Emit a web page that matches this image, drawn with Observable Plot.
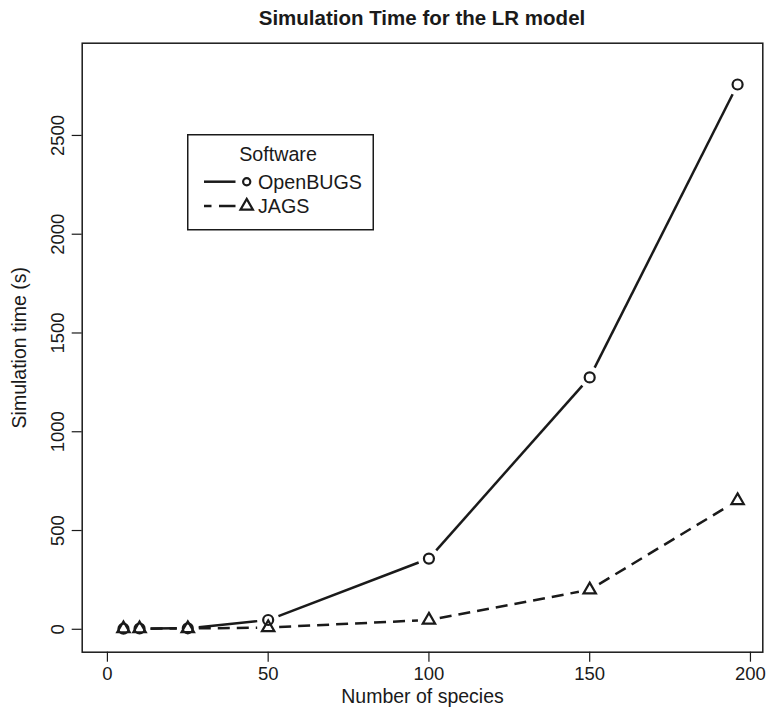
<!DOCTYPE html>
<html><head><meta charset="utf-8">
<script src="https://cdn.jsdelivr.net/npm/d3@7"></script>
<script src="https://cdn.jsdelivr.net/npm/@observablehq/plot@0.6"></script>
<style>
body{margin:0;background:#fff;font-family:"Liberation Sans",Arial,Helvetica,sans-serif;color:#1a1a1a;}
#wrap{position:relative;width:768px;height:715px;overflow:hidden;}
#title{position:absolute;left:82px;top:0;width:680px;height:40px;line-height:36px;font-size:20.5px;font-weight:bold;text-align:center;}
#chart{position:absolute;left:0;top:40px;}
#legend{position:absolute;left:187px;top:134px;}
</style></head><body>
<div id="wrap">
  <div id="title">Simulation Time for the LR model</div>
  <div id="chart"></div>
  <svg id="legend" width="188" height="97"></svg>
</div>
<script>
const species = [5, 10, 25, 50, 100, 150, 196];
const openbugs = [3, 4, 5, 47, 358, 1275, 2758];
const jags = [3, 3, 4, 9, 47, 200, 652];
const xTicks = [0, 50, 100, 150, 200];
const yTicks = [0, 500, 1000, 1500, 2000, 2500];
const seriesNames = ["OpenBUGS", "JAGS"];
const legendTitle = "Software";

const ink = "#1a1a1a";
const pts = (ys) => species.map((x, i) => ({x, y: ys[i]}));
const segs = (ys) => species.slice(1).map((x, i) => ({x1: species[i], y1: ys[i], x2: x, y2: ys[i + 1]}));

const chart = Plot.plot({
  width: 768, height: 675,
  marginTop: 2.7, marginLeft: 81.7, marginRight: 5.7, marginBottom: 63.3,
  style: {fontFamily: "'Liberation Sans', Arial, sans-serif", fontSize: "18.5px", color: ink, background: "white"},
  x: {domain: [-7.84, 203.84]},
  y: {domain: [-116, 2967]},
  marks: [
    Plot.frame({stroke: ink, strokeWidth: 1.5}),
    Plot.axisX({ticks: xTicks, tickSize: 10, tickPadding: 5, label: null, fontSize: 18.5, stroke: ink, strokeWidth: 1.2}),
    Plot.axisY({ticks: yTicks, tickSize: 10, tickFormat: () => "", label: null, stroke: ink, strokeWidth: 1.2}),
    Plot.text(yTicks, {y: d => d, text: d => String(d), frameAnchor: "left", dx: -24, rotate: -90, textAnchor: "middle", lineAnchor: "middle", fontSize: 18.5, fill: ink}),
    Plot.text(["Number of species"], {frameAnchor: "bottom", dy: 51, text: d => d, textAnchor: "middle", fontSize: 19.5, fill: ink}),
    Plot.text(["Simulation time (s)"], {frameAnchor: "left", dx: -62, rotate: -90, text: d => d, textAnchor: "middle", lineAnchor: "middle", fontSize: 19.5, fill: ink}),
    Plot.arrow(segs(openbugs), {x1: "x1", y1: "y1", x2: "x2", y2: "y2", headLength: 0, inset: 11, stroke: ink, strokeWidth: 2.5, strokeLinecap: "butt"}),
    Plot.arrow(segs(jags), {x1: "x1", y1: "y1", x2: "x2", y2: "y2", headLength: 0, inset: 11, stroke: ink, strokeWidth: 2.5, strokeDasharray: "12,7", strokeLinecap: "butt"}),
    Plot.dot(pts(openbugs), {x: "x", y: "y", r: 5, symbol: "circle", stroke: ink, strokeWidth: 2.2, fill: "none"}),
    Plot.dot(pts(jags), {x: "x", y: "y", r: 4.6, symbol: "triangle", stroke: ink, strokeWidth: 2.2, fill: "none"})
  ]
});
document.getElementById("chart").appendChild(chart);

// legend
const lg = d3.select("#legend");
lg.append("rect").attr("x", 0.75).attr("y", 0.75).attr("width", 185.5).attr("height", 95).attr("fill", "white").attr("stroke", ink).attr("stroke-width", 1.5);
lg.append("text").attr("x", 91).attr("y", 20).attr("dy", "0.35em").attr("text-anchor", "middle").attr("font-size", 19.7).attr("fill", ink).text(legendTitle);
const rows = [{y: 47.7, dash: null, sym: "circle"}, {y: 72, dash: "7.5,7.5,40", sym: "triangle"}];
rows.forEach((r, i) => {
  lg.append("line").attr("x1", 17).attr("x2", 48.5).attr("y1", r.y).attr("y2", r.y)
    .attr("stroke", ink).attr("stroke-width", 2.5).attr("stroke-dasharray", r.dash);
  if (r.sym === "circle") {
    lg.append("circle").attr("cx", 59.7).attr("cy", r.y).attr("r", 3.6).attr("fill", "none").attr("stroke", ink).attr("stroke-width", 2.2);
  } else {
    lg.append("path").attr("transform", `translate(59.7,${r.y})`).attr("d", d3.symbol(d3.symbolTriangle, Math.PI * 4.6 * 4.6)())
      .attr("fill", "none").attr("stroke", ink).attr("stroke-width", 2.2);
  }
  lg.append("text").attr("x", 71).attr("y", r.y).attr("dy", "0.35em").attr("font-size", 19.7).attr("fill", ink).text(seriesNames[i]);
});
</script>
</body></html>
